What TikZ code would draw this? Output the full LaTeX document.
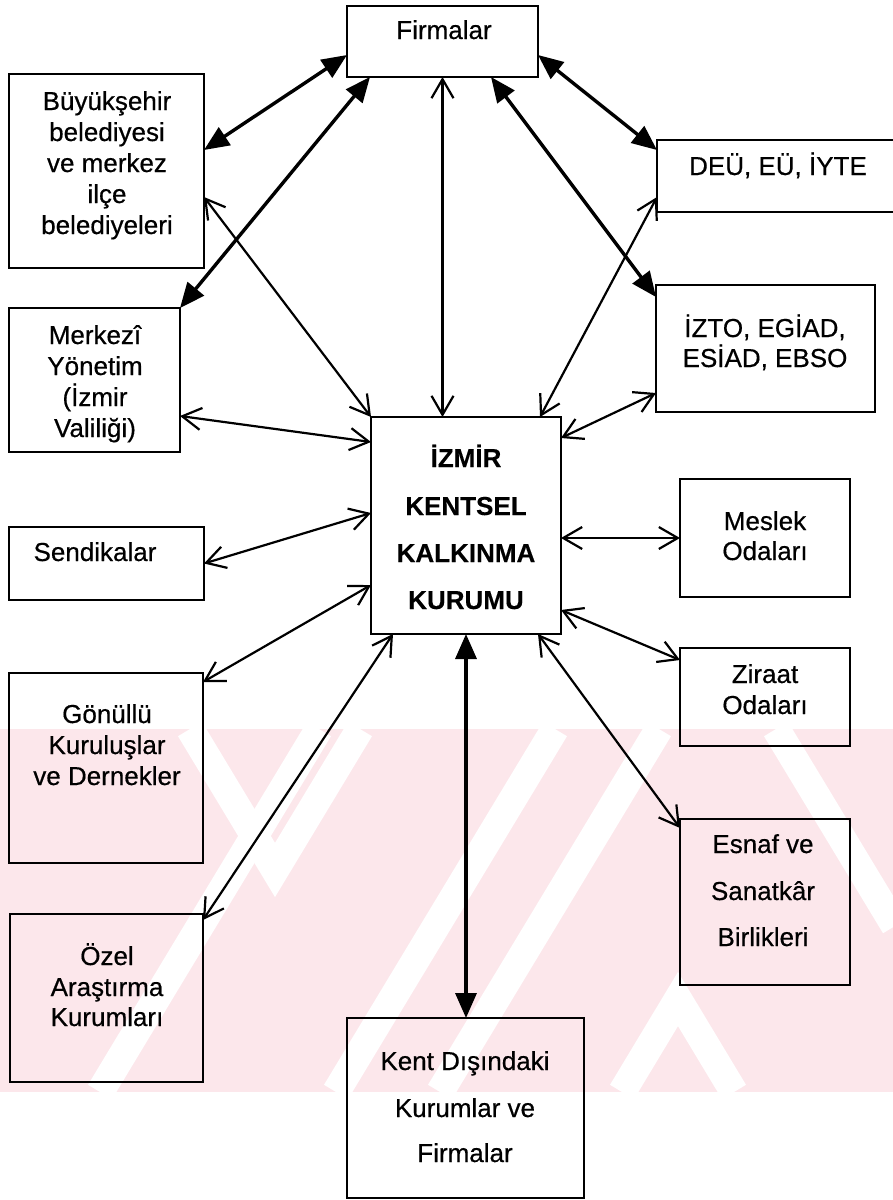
\documentclass[tikz,border=0pt]{standalone}
\usepackage{fontspec}
\setmainfont{Liberation Sans}
\newfontfamily\scanfont{Liberation Sans}[FakeBold=0.5]
\newfontfamily\scanbold{Liberation Sans Bold}[FakeBold=0.3]
\usetikzlibrary{arrows.meta}
\definecolor{wmpink}{RGB}{252,231,235}
\begin{document}
\begin{tikzpicture}[x=1pt,y=-1pt,
  box/.style={draw, line width=2.5pt, inner sep=0pt, outer sep=0pt},
  lbl/.style={anchor=base, inner sep=0pt, font=\scanfont\fontsize{26}{30}\selectfont},
  blbl/.style={anchor=base, inner sep=0pt, font=\scanbold\fontsize{26}{30}\selectfont},
  biglink/.style={line width=3.4pt, {Triangle[length=25pt,width=21pt]}-{Triangle[length=25pt,width=21pt]}},
  smalllink/.style={line width=2.2pt, {Straight Barb[length=19pt,width=22pt]}-{Straight Barb[length=19pt,width=22pt]}},
  stripe/.style={white, line width=28pt}
]
\useasboundingbox (0,0) rectangle (893,1200);
% watermark
\begin{scope}
\clip (0,729) rectangle (893,1092);
\fill[wmpink] (0,729) rectangle (893,1092);
\draw[stripe] (190,729) -- (275,870) -- (360,729);
\draw[stripe] (622,1092) -- (678,999) -- (734,1092);
\draw[stripe] (100,1092) -- (319,729);
\draw[stripe] (336,1092) -- (555,729);
\draw[stripe] (440,1092) -- (659,729);
\draw[stripe] (776,729) -- (895,926);
\end{scope}
% boxes
\node[box, minimum width=191pt, minimum height=71pt] (firm) at (442.5,41.5) {};
\node[box, minimum width=195pt, minimum height=194pt] (buyuk) at (106.5,171) {};
\node[box, minimum width=245pt, minimum height=72pt] (deu) at (779.5,176) {};
\node[box, minimum width=171pt, minimum height=144pt] (merk) at (94.5,380) {};
\node[box, minimum width=219pt, minimum height=127pt] (izto) at (765.5,348.5) {};
\node[box, minimum width=190pt, minimum height=217pt] (cen) at (466,525.5) {};
\node[box, minimum width=195pt, minimum height=73pt] (send) at (106.5,563.5) {};
\node[box, minimum width=170pt, minimum height=118pt] (meslek) at (765,538) {};
\node[box, minimum width=170pt, minimum height=98pt] (ziraat) at (765,697) {};
\node[box, minimum width=194pt, minimum height=190pt] (gon) at (106,768) {};
\node[box, minimum width=170pt, minimum height=166pt] (esnaf) at (765,902) {};
\node[box, minimum width=193pt, minimum height=168pt] (ozel) at (106.5,998) {};
\node[box, minimum width=237pt, minimum height=180pt] (kent) at (465.5,1108) {};
% texts
\node[lbl] (firmT) at (444,39) {Firmalar};
\node[lbl] (buyukT1) at (107,110) {Büyükşehir};
\node[lbl] (buyukT2) at (107,141) {belediyesi};
\node[lbl] (buyukT3) at (107,172) {ve merkez};
\node[lbl] (buyukT4) at (107,203) {ilçe};
\node[lbl] (buyukT5) at (107,234) {belediyeleri};
\node[lbl] (merkT1) at (95,344) {Merkezî};
\node[lbl] (merkT2) at (95,375) {Yönetim};
\node[lbl] (merkT3) at (95,406) {(İzmir};
\node[lbl] (merkT4) at (95,437) {Valiliği)};
\node[lbl] (sendT) at (95,561) {Sendikalar};
\node[lbl] (deuT) at (778,175) {DEÜ, EÜ, İYTE};
\node[lbl] (iztoT1) at (765,337) {İZTO, EGİAD,};
\node[lbl] (iztoT2) at (765,367) {ESİAD, EBSO};
\node[blbl] (cenT1) at (466,467) {İZMİR};
\node[blbl] (cenT2) at (466,515) {KENTSEL};
\node[blbl] (cenT3) at (466,562) {KALKINMA};
\node[blbl] (cenT4) at (466,609) {KURUMU};
\node[lbl] (meslekT1) at (765,530) {Meslek};
\node[lbl] (meslekT2) at (765,560) {Odaları};
\node[lbl] (ziraatT1) at (765,683) {Ziraat};
\node[lbl] (ziraatT2) at (765,714) {Odaları};
\node[lbl] (esnafT1) at (763,853) {Esnaf ve};
\node[lbl] (esnafT2) at (763,900) {Sanatkâr};
\node[lbl] (esnafT3) at (763,946) {Birlikleri};
\node[lbl] (gonT1) at (107,723) {Gönüllü};
\node[lbl] (gonT2) at (107,754) {Kuruluşlar};
\node[lbl] (gonT3) at (107,785) {ve Dernekler};
\node[lbl] (ozelT1) at (107,965) {Özel};
\node[lbl] (ozelT2) at (107,996) {Araştırma};
\node[lbl] (ozelT3) at (107,1026) {Kurumları};
\node[lbl] (kentT1) at (465,1070) {Kent Dışındaki};
\node[lbl] (kentT2) at (465,1117) {Kurumlar ve};
\node[lbl] (kentT3) at (465,1162) {Firmalar};
% thick connectors
\draw[biglink] ([yshift=21pt]buyuk.east) -- ([yshift=-13.5pt]firm.west);
\draw[biglink] ([xshift=23pt]firm.south west) -- (merk.north east);
\draw[biglink] ([yshift=-13.5pt]firm.east) -- ([yshift=26pt]deu.west);
\draw[biglink] ([xshift=-47pt]firm.south east) -- ([yshift=-12pt]izto.north west);
\draw[biglink] (cen.south) -- (cen.south |- kent.north);
% thin connectors
\draw[smalllink] (firm.south) -- (firm.south |- cen.north);
\draw[smalllink] ([yshift=-26pt]buyuk.east) -- (cen.north west);
\draw[smalllink] ([yshift=-21pt]deu.west) -- ([xshift=-21pt]cen.north east);
\draw[smalllink] ([yshift=-36pt]merk.east) -- ([yshift=-25pt]cen.north west);
\draw[smalllink] (send.east) -- ([yshift=12.5pt]cen.west);
\draw[smalllink] ([yshift=19pt]izto.south west) -- ([yshift=-21pt]cen.north east);
\draw[smalllink] (cen.east |- meslek.west) -- (meslek.west);
\draw[smalllink] ([yshift=-9pt]gon.north east) -- ([yshift=49pt]cen.south west);
\draw[smalllink] ([yshift=24pt]cen.south east) -- ([yshift=-12pt]ziraat.north west);
\draw[smalllink] ([xshift=22pt]cen.south west) -- ([yshift=-6pt]ozel.north east);
\draw[smalllink] ([xshift=-23pt]cen.south east) -- ([yshift=-9pt]esnaf.north west);
\end{tikzpicture}
\end{document}
